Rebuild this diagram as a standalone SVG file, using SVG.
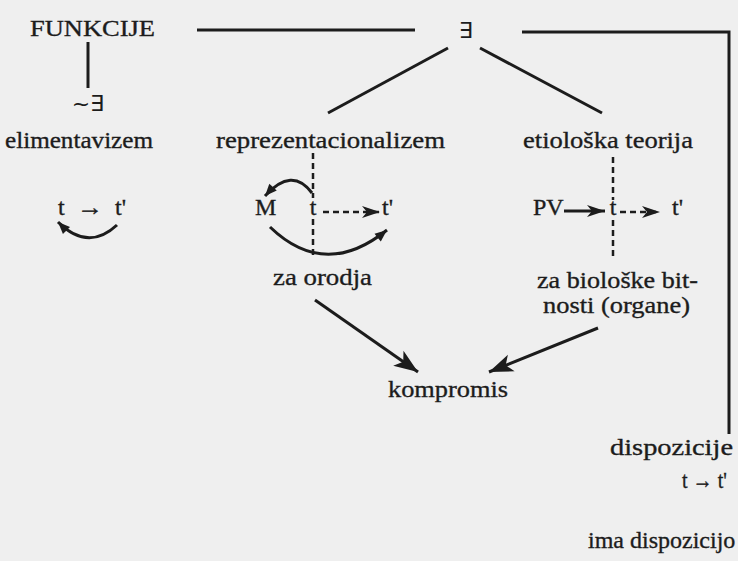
<svg xmlns="http://www.w3.org/2000/svg" width="738" height="561" viewBox="0 0 738 561" font-family="'Liberation Serif', 'Times New Roman', serif">
<defs>
<style>
text{font-size:24px;fill:#1c1c1c;stroke:#1c1c1c;stroke-width:0.35}
text.sym{font-family:"DejaVu Sans",sans-serif;font-size:22px;stroke-width:0}
.ln{stroke:#1c1c1c;stroke-width:3;fill:none}
.dash{stroke:#1c1c1c;stroke-width:2.5;fill:none;stroke-dasharray:6,4}
</style>
<marker id="barb" markerUnits="userSpaceOnUse" markerWidth="20" markerHeight="14" refX="18" refY="6" orient="auto" overflow="visible">
<path d="M0,0 L18,6 L0,12 L5,6 Z" fill="#1c1c1c"/>
</marker>
<marker id="big" markerUnits="userSpaceOnUse" markerWidth="26" markerHeight="20" refX="24" refY="9" orient="auto" overflow="visible">
<path d="M0,0 L24,9 L0,18 L6,9 Z" fill="#1c1c1c"/>
</marker>
<marker id="tri" markerUnits="userSpaceOnUse" markerWidth="14" markerHeight="12" refX="12" refY="5" orient="auto" overflow="visible">
<path d="M0,0 L12,5 L0,10 Z" fill="#1c1c1c"/>
</marker>
</defs>
<rect width="738" height="561" fill="#efefef"/>
<g id="connectors">
<line class="ln" x1="197" y1="30" x2="415" y2="30"/>
<polyline class="ln" points="522,32 729,32 729,434"/>
<line class="ln" x1="88" y1="42" x2="88" y2="88"/>
<line class="ln" x1="448" y1="48" x2="328" y2="113"/>
<line class="ln" x1="480" y1="48" x2="602" y2="113"/>
<line class="dash" x1="313" y1="153" x2="313" y2="198"/>
<line class="dash" x1="313" y1="219" x2="313" y2="258"/>
<line class="dash" x1="613" y1="157" x2="613" y2="200"/>
<line class="dash" x1="613" y1="220" x2="613" y2="257"/>
<line class="dash" x1="323" y1="212" x2="380" y2="212" marker-end="url(#barb)"/>
<line class="ln" x1="564" y1="211" x2="605" y2="211" stroke-width="2.5" marker-end="url(#barb)"/>
<line class="dash" x1="620" y1="212" x2="660" y2="212" stroke-dasharray="5,4" marker-end="url(#barb)"/>
<path class="ln" d="M312,193 Q292,166 265,196" marker-end="url(#tri)"/>
<path class="ln" d="M270,227 Q325,280 387,230" marker-end="url(#tri)"/>
<path class="ln" d="M117,225 Q88,252 58,222" marker-end="url(#tri)"/>
<line class="ln" x1="315" y1="300" x2="418" y2="372" marker-end="url(#big)"/>
<line class="ln" x1="598" y1="328" x2="489" y2="372" marker-end="url(#big)"/>
</g>
<g id="funkcije"><text x="30" y="36" textLength="125" lengthAdjust="spacingAndGlyphs">FUNKCIJE</text></g>
<g id="exists"><text class="sym" x="466" y="38" text-anchor="middle">∃</text></g>
<g id="elimentavizem">
<text class="sym" x="88" y="111" text-anchor="middle">~∃</text>
<text x="5" y="148" textLength="148" lengthAdjust="spacingAndGlyphs">elimentavizem</text>
<text x="58" y="215">t</text>
<text x="77" y="215" textLength="26" lengthAdjust="spacingAndGlyphs">→</text>
<text x="115" y="215">t'</text>
</g>
<g id="reprezentacionalizem">
<text x="216" y="148" textLength="229" lengthAdjust="spacingAndGlyphs">reprezentacionalizem</text>
<text x="255" y="215">M</text>
<text x="313" y="215" text-anchor="middle">t</text>
<text x="382" y="215">t'</text>
<text x="273" y="285" textLength="99" lengthAdjust="spacingAndGlyphs">za orodja</text>
</g>
<g id="etioloska">
<text x="523" y="148" textLength="170" lengthAdjust="spacingAndGlyphs">etiološka teorija</text>
<text x="533" y="215">PV</text>
<text x="613" y="215" text-anchor="middle">t</text>
<text x="672" y="215">t'</text>
<text x="537" y="288" textLength="161" lengthAdjust="spacingAndGlyphs">za biološke bit-</text>
<text x="543" y="313" textLength="147" lengthAdjust="spacingAndGlyphs">nosti (organe)</text>
</g>
<g id="kompromis"><text x="388" y="397" textLength="120" lengthAdjust="spacingAndGlyphs">kompromis</text></g>
<g id="dispozicije">
<text x="610" y="455" textLength="123" lengthAdjust="spacingAndGlyphs">dispozicije</text>
<text x="682" y="488" textLength="45" lengthAdjust="spacingAndGlyphs">t → t'</text>
<text x="588" y="548">ima dispozicijo</text>
</g>
</svg>
